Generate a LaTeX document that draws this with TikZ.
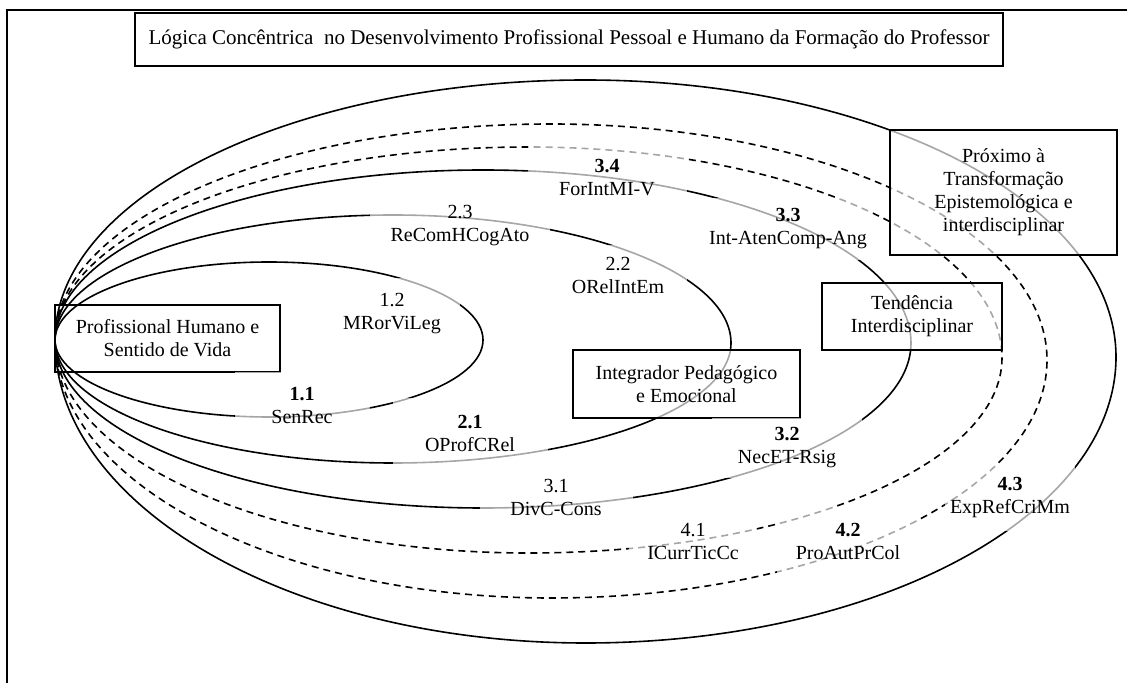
\documentclass[tikz,border=0pt]{standalone}
\usepackage{fontspec}
\setmainfont{Liberation Serif}
\usepackage{tikz}

\begin{document}
\begin{tikzpicture}[x=1pt, y=1pt, font=\fontsize{20}{23}\selectfont,
    box/.style = {draw, line width=1.3pt, align=center, inner sep=0pt},
    softbox/.style = {box, fill=white, fill opacity=0.65, text opacity=1},
    lab/.style = {fill=white, fill opacity=0.65, text opacity=1, align=center, inner sep=0pt},
    ring/.style = {line width=1.6pt},
    dashring/.style = {ring, dash pattern=on 7pt off 5pt}]
        \useasboundingbox (0,0) rectangle (1127,683);
        \draw[line width=1.3pt] (7,0) -- (7,673) -- (1127,673);

        \node[box, minimum width=868pt, minimum height=53pt, font=\fontsize{21}{24}\selectfont] (title) at (569,643.5)
            {Lógica Concêntrica\ \ no Desenvolvimento Profissional Pessoal e Humano da Formação do Professor};

        % the rings, all touching at the left
        \draw[ring] (55,343) arc[start angle=180, end angle=90, x radius=214, y radius=78]
            arc[start angle=90, end angle=0, x radius=214, y radius=78]
            arc[start angle=0, end angle=-90, x radius=214, y radius=77]
            arc[start angle=-90, end angle=-180, x radius=214, y radius=77];
        \draw[ring] (55,343) arc[start angle=180, end angle=90, x radius=338, y radius=125]
            arc[start angle=90, end angle=0, x radius=338, y radius=128]
            arc[start angle=0, end angle=-90, x radius=338, y radius=120]
            arc[start angle=-90, end angle=-180, x radius=338, y radius=123];
        \draw[ring] (55,343) arc[start angle=180, end angle=90, x radius=428, y radius=170]
            arc[start angle=90, end angle=0, x radius=428, y radius=173]
            arc[start angle=0, end angle=-90, x radius=428, y radius=165]
            arc[start angle=-90, end angle=-180, x radius=428, y radius=168];
        \draw[dashring] (55,343) arc[start angle=180, end angle=90, x radius=473.5, y radius=193]
            arc[start angle=90, end angle=0, x radius=473.5, y radius=211]
            arc[start angle=0, end angle=-90, x radius=473.5, y radius=195]
            arc[start angle=-90, end angle=-180, x radius=473.5, y radius=213];
        \draw[dashring] (55,343) arc[start angle=180, end angle=90, x radius=496, y radius=216]
            arc[start angle=90, end angle=0, x radius=496, y radius=236]
            arc[start angle=0, end angle=-90, x radius=496, y radius=238]
            arc[start angle=-90, end angle=-180, x radius=496, y radius=258];
        \draw[ring] (55,343) arc[start angle=180, end angle=90, x radius=530.5, y radius=260]
            arc[start angle=90, end angle=0, x radius=530.5, y radius=277]
            arc[start angle=0, end angle=-90, x radius=530.5, y radius=286]
            arc[start angle=-90, end angle=-180, x radius=530.5, y radius=303];

        \node[box, minimum width=225pt, minimum height=67pt] (prof) at (167.5,344.5)
            {Profissional Humano e\\Sentido de Vida};
        \node[softbox, minimum width=227pt, minimum height=68pt] (integ) at (686.5,299)
            {Integrador Pedagógico\\e Emocional};
        \node[softbox, minimum width=180pt, minimum height=67pt] (tend) at (912,366.5)
            {Tendência\\Interdisciplinar};
        \node[softbox, minimum width=227pt, minimum height=125pt] (prox) at (1003.5,490.5)
            {Próximo à\\Transformação\\Epistemológica e\\interdisciplinar};

        \node[lab, minimum width=135pt, minimum height=65pt] (l11) at (302,278) {\textbf{1.1}\\SenRec};
        \node[lab, minimum width=135pt, minimum height=72pt] (l12) at (392,369) {1.2\\MRorViLeg};
        \node[lab, minimum width=155pt, minimum height=70pt] (l21) at (470,250) {\textbf{2.1}\\OProfCRel};
        \node[lab, minimum width=137pt, minimum height=60pt] (l22) at (618,408) {2.2\\ORelIntEm};
        \node[lab, minimum width=180pt, minimum height=67pt] (l23) at (460,457) {2.3\\ReComHCogAto};
        \node[lab, minimum width=153pt, minimum height=58pt] (l31) at (556,186) {3.1\\DivC-Cons};
        \node[lab, minimum width=150pt, minimum height=60pt] (l32) at (787,235) {\textbf{3.2}\\NecET-Rsig};
        \node[lab, minimum width=170pt, minimum height=62pt] (l33) at (788,454) {\textbf{3.3}\\Int-AtenComp-Ang};
        \node[lab, minimum width=159pt, minimum height=65pt] (l34) at (607,505) {\textbf{3.4}\\ForIntMI-V};
        \node[lab, minimum width=128pt, minimum height=58pt] (l41) at (693,142) {4.1\\ICurrTicCc};
        \node[lab, minimum width=143pt, minimum height=68pt] (l42) at (848,142) {\textbf{4.2}\\ProAutPrCol};
        \node[lab, minimum width=130pt, minimum height=67pt] (l43) at (1010,185) {\textbf{4.3}\\ExpRefCriMm};
      \end{tikzpicture}
\end{document}
